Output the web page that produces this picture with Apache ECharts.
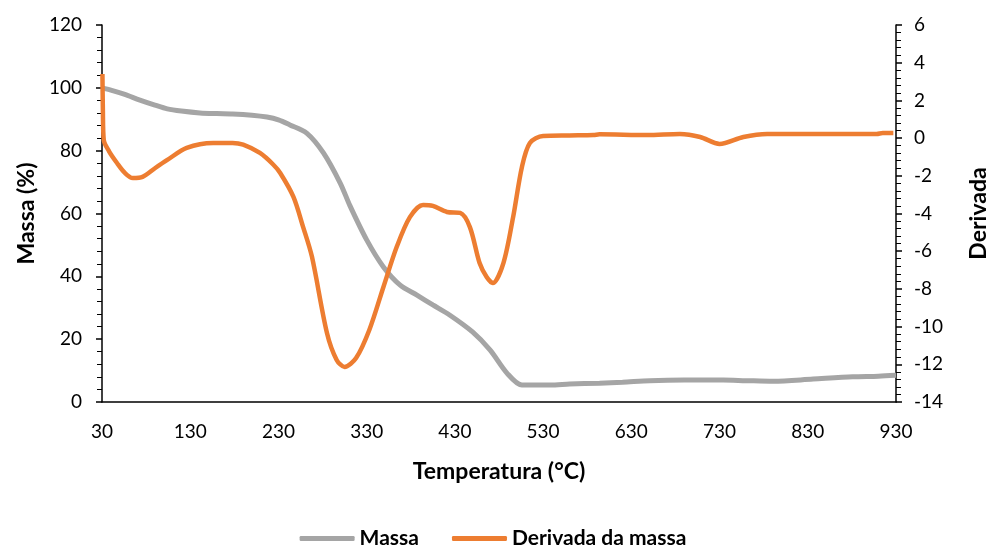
<!DOCTYPE html>
<html>
<head>
<meta charset="utf-8">
<script src="https://cdn.jsdelivr.net/npm/echarts@6/dist/echarts.min.js"></script>
<style>html,body{margin:0;padding:0;background:#fff}#c{width:986px;height:553px}</style>
</head>
<body>
<div id="c"></div>
<script>
// Temperature (°C) and mass (%) — TGA curve
var massaT = [30, 40, 55, 73, 90, 104, 120, 141, 160, 178, 200, 217, 230, 243, 262, 281, 300, 311, 330, 349, 368, 387, 405, 424, 450, 470, 489, 506, 520, 538, 560, 594, 620, 651, 690, 734, 760, 791, 836, 881, 910, 930];
var massaV = [100, 99.3, 98, 96.1, 94.5, 93.3, 92.6, 92, 91.8, 91.7, 91.3, 90.7, 89.8, 88.2, 85.6, 79.3, 69.7, 62.5, 51.6, 43, 37.2, 34, 30.9, 27.7, 22.3, 16.5, 9.2, 5.4, 5.4, 5.4, 5.7, 6, 6.3, 6.8, 7, 7, 6.8, 6.6, 7.3, 8, 8.2, 8.5];
// Temperature (°C) and derivative of mass
var derivT = [30.5, 31, 32, 38, 47, 56, 65, 76, 90, 104, 126, 156, 178, 190, 209, 224, 232, 247, 258, 268, 285, 296, 305, 318, 333, 349, 364, 379, 394, 405, 421, 436, 447, 458, 466, 473, 485, 496, 506, 515, 530, 560, 587, 594, 648, 685, 708, 730, 757, 784, 850, 908, 915, 927];
var derivV = [3.4, 1.5, -0.1, -0.7, -1.32, -1.85, -2.12, -2.06, -1.6, -1.16, -0.52, -0.26, -0.26, -0.35, -0.79, -1.4, -1.85, -3.12, -4.72, -6.3, -10.34, -11.77, -12.14, -11.67, -10.18, -7.9, -5.78, -4.19, -3.55, -3.6, -3.92, -3.97, -4.72, -6.63, -7.37, -7.69, -6.63, -4.19, -1.53, -0.26, 0.11, 0.14, 0.16, 0.2, 0.16, 0.22, 0.06, -0.31, 0.06, 0.22, 0.22, 0.22, 0.27, 0.27];
var xTicks = {min: 30, max: 930, step: 100};
var leftTicks = {min: 0, max: 120, step: 20};
var rightTicks = {min: -14, max: 6, step: 2};

function pairs(xs, ys) { return xs.map(function (x, i) { return [x, ys[i]]; }); }

var FONT = 'Lato';
var chart = echarts.init(document.getElementById('c'));
chart.setOption({
  animation: false,
  backgroundColor: '#ffffff',
  grid: {left: 102, right: 90, top: 25, bottom: 151, containLabel: false, outerBoundsMode: 'none'},
  legend: {
    bottom: -1, left: 'center',
    icon: 'roundRect', itemWidth: 55, itemHeight: 5, itemGap: 33,
    textStyle: {fontFamily: FONT, fontSize: 21, fontWeight: 'bold', color: '#000'},
    data: ['Massa', 'Derivada da massa']
  },
  xAxis: {
    type: 'value', min: xTicks.min, max: xTicks.max, interval: xTicks.step,
    name: 'Temperatura (°C)', nameLocation: 'middle', nameGap: 58,
    nameTextStyle: {fontFamily: FONT, fontSize: 23, fontWeight: 'bold', color: '#000'},
    axisLine: {lineStyle: {color: '#000', width: 1.5}},
    axisTick: {show: false},
    splitLine: {show: false},
    axisLabel: {fontFamily: FONT, fontSize: 19, color: '#000', margin: 20}
  },
  yAxis: [{
    type: 'value', min: leftTicks.min, max: leftTicks.max, interval: leftTicks.step,
    name: 'Massa (%)', nameLocation: 'middle', nameGap: 62,
    nameTextStyle: {fontFamily: FONT, fontSize: 23, fontWeight: 'bold', color: '#000'},
    axisLine: {show: true, lineStyle: {color: '#000', width: 1.5}},
    axisTick: {show: true, length: 6, lineStyle: {color: '#000', width: 1.5}},
    minorTick: {show: true, splitNumber: 5, length: 5, lineStyle: {color: '#000', width: 1}},
    splitLine: {show: false},
    axisLabel: {fontFamily: FONT, fontSize: 19, color: '#000', margin: 20}
  }, {
    type: 'value', position: 'right', min: rightTicks.min, max: rightTicks.max, interval: rightTicks.step,
    name: 'Derivada', nameLocation: 'middle', nameGap: 71, nameRotate: 90,
    nameTextStyle: {fontFamily: FONT, fontSize: 23, fontWeight: 'bold', color: '#000'},
    axisLine: {show: true, lineStyle: {color: '#000', width: 1.5}},
    axisTick: {show: true, length: 6, lineStyle: {color: '#000', width: 1.5}},
    minorTick: {show: true, splitNumber: 5, length: 5, lineStyle: {color: '#000', width: 1}},
    splitLine: {show: false},
    axisLabel: {fontFamily: FONT, fontSize: 19, color: '#000', margin: 18}
  }],
  series: [{
    name: 'Massa', type: 'line', yAxisIndex: 0, showSymbol: false, smooth: 0.3,
    data: pairs(massaT, massaV),
    itemStyle: {color: '#A5A5A5'},
    lineStyle: {color: '#A5A5A5', width: 5}
  }, {
    name: 'Derivada da massa', type: 'line', yAxisIndex: 1, showSymbol: false, smooth: 0.3,
    data: pairs(derivT, derivV),
    itemStyle: {color: '#ED7D31'},
    lineStyle: {color: '#ED7D31', width: 4.5}
  }]
});
</script>
</body>
</html>
